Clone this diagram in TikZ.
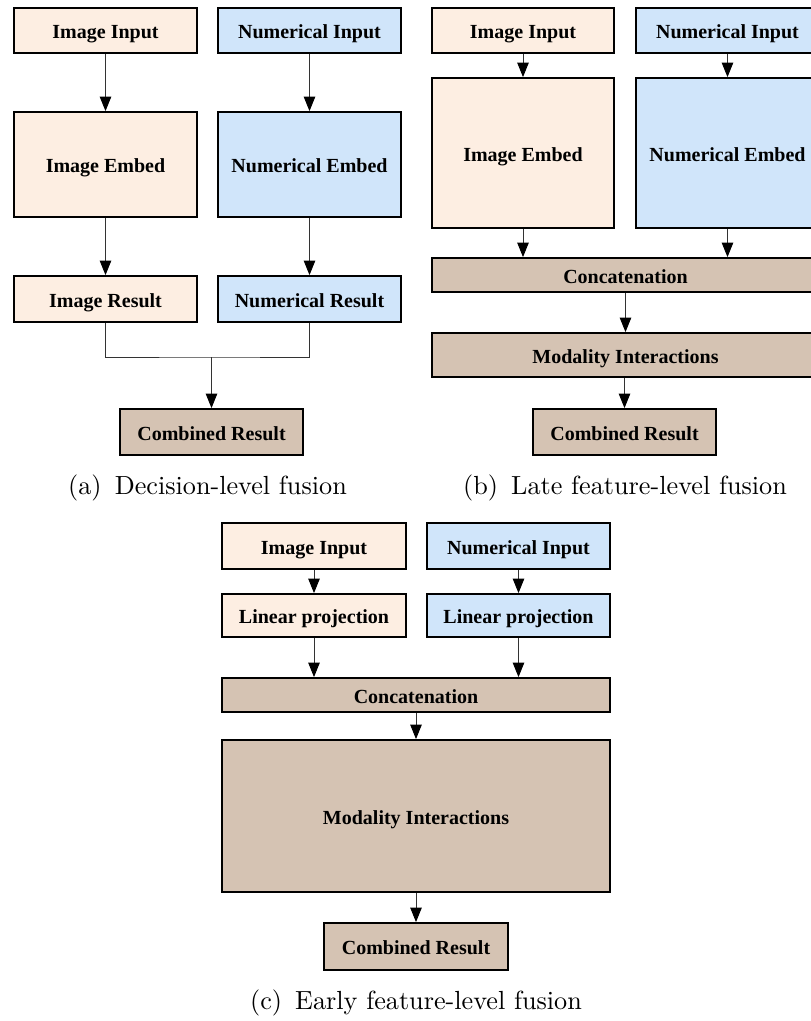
\documentclass[tikz,border=0pt]{standalone}
\usepackage{fontspec}
\newfontfamily\boxfont{Liberation Serif}
\newfontfamily\capfont{lmroman10-regular}[Extension=.otf]
\usetikzlibrary{arrows.meta}

\definecolor{peach}{RGB}{253,238,226}
\definecolor{skyblue}{RGB}{208,229,250}
\definecolor{taupe}{RGB}{213,195,179}

\tikzset{
  box/.style={draw=black, line width=1.8pt, inner sep=0pt, align=center,
    text height=16pt, text depth=0pt,
    font=\boxfont\bfseries\fontsize{20}{24}\selectfont},
  sz/.style 2 args={minimum width=#1pt, minimum height=#2pt},
  imgbox/.style={box, fill=peach},
  numbox/.style={box, fill=skyblue},
  fusebox/.style={box, fill=taupe},
  conn/.style={draw=black!80, line width=0.9pt},
  arr/.style={conn, -{Triangle[width=11.5pt,length=14.5pt,color=black]}},
  subcap/.style={inner sep=0pt, font=\capfont\fontsize{26.2}{30}\selectfont}
}

\begin{document}
\begin{tikzpicture}[x=1pt,y=-1pt]
  % canvas
  \fill[white] (0,0) rectangle (811,1021);
  \useasboundingbox (0,0) rectangle (811,1021);

  % ---------- (a) decision-level fusion ----------
  \node[imgbox, sz={183}{45}] (aimg) at (105.5,30.5) {Image Input};
  \node[numbox, sz={183}{45}] (anum) at (309.5,30.5) {Numerical Input};
  \node[imgbox, sz={183}{105}] (aemb) at (105.5,164.5) {Image Embed};
  \node[numbox, sz={183}{105}] (anemb) at (309.5,164.5) {Numerical Embed};
  \node[imgbox, sz={183}{46}] (ares) at (105.5,299) {Image Result};
  \node[numbox, sz={183}{46}] (anres) at (309.5,299) {Numerical Result};
  \node[fusebox, sz={183}{46}] (acomb) at (211.5,432) {Combined Result};
  \coordinate (ajoin) at (211.5,357);

  \draw[arr] (aimg) -- (aemb);
  \draw[arr] (anum) -- (anemb);
  \draw[arr] (aemb) -- (ares);
  \draw[arr] (anemb) -- (anres);
  \draw[conn] (ares.south) |- (ajoin) -| (anres.south);
  \draw[arr] (ajoin) -- (acomb.north);

  \node[subcap] (capa) at (207.5,488) {(a)\hspace{0.5em}Decision-level fusion};

  % ---------- (b) late feature-level fusion ----------
  \node[imgbox, sz={182}{45}] (bimg) at (523,30.5) {Image Input};
  \node[numbox, sz={183}{45}] (bnum) at (727.5,30.5) {Numerical Input};
  \node[imgbox, sz={182}{150}] (bemb) at (523,153) {Image Embed};
  \node[numbox, sz={183}{150}] (bnemb) at (727.5,153) {Numerical Embed};
  \node[fusebox, sz={387}{34}] (bcat) at (625.5,275) {Concatenation};
  \node[fusebox, sz={387}{44}] (bmod) at (625.5,355) {Modality Interactions};
  \node[fusebox, sz={183}{46}] (bcomb) at (624.5,432) {Combined Result};

  \draw[arr] (bimg) -- (bemb);
  \draw[arr] (bnum) -- (bnemb);
  \draw[arr] (bemb.south) -- (bemb.south |- bcat.north);
  \draw[arr] (bnemb.south) -- (bnemb.south |- bcat.north);
  \draw[arr] (bcat) -- (bmod);
  \draw[arr] (bmod.south -| bcomb.north) -- (bcomb.north);

  \node[subcap] (capb) at (625,488) {(b)\hspace{0.5em}Late feature-level fusion};

  % ---------- (c) early feature-level fusion ----------
  \node[imgbox, sz={184}{46}] (cimg) at (314,546) {Image Input};
  \node[numbox, sz={183}{46}] (cnum) at (518.5,546) {Numerical Input};
  \node[imgbox, sz={184}{43}] (clin) at (314,615.5) {Linear projection};
  \node[numbox, sz={183}{43}] (cnlin) at (518.5,615.5) {Linear projection};
  \node[fusebox, sz={388}{34}] (ccat) at (416,695) {Concatenation};
  \node[fusebox, sz={388}{152}] (cmod) at (416,816) {Modality Interactions};
  \node[fusebox, sz={184}{47}] (ccomb) at (416,946.5) {Combined Result};

  \draw[arr] (cimg) -- (clin);
  \draw[arr] (cnum) -- (cnlin);
  \draw[arr] (clin.south) -- (clin.south |- ccat.north);
  \draw[arr] (cnlin.south) -- (cnlin.south |- ccat.north);
  \draw[arr] (ccat) -- (cmod);
  \draw[arr] (cmod) -- (ccomb);

  \node[subcap] (capc) at (416,1003) {(c)\hspace{0.5em}Early feature-level fusion};
\end{tikzpicture}
\end{document}
